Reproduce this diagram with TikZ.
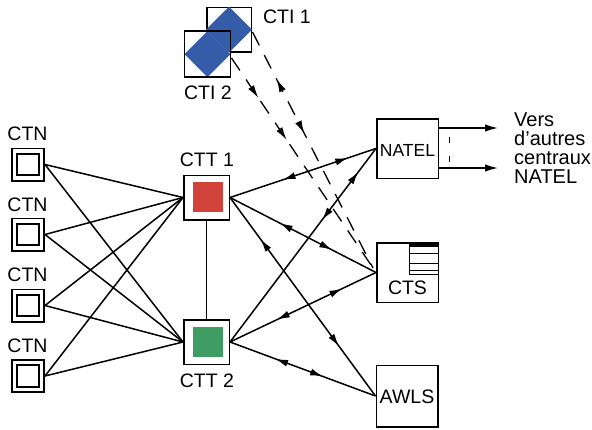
\documentclass[tikz,border=0pt]{standalone}
\usepackage{fontspec}
\setmainfont{Liberation Sans}
\usetikzlibrary{arrows.meta,decorations.markings,calc}
\definecolor{cred}{RGB}{208,66,58}
\definecolor{cgreen}{RGB}{63,156,99}
\definecolor{cblue}{RGB}{53,92,168}
\begin{document}
\begin{tikzpicture}[x=1pt,y=-1pt,
  lbl/.style={font=\fontsize{19.5}{22}\selectfont, inner sep=0},
  ctnbox/.style={draw, line width=1.7pt, minimum size=32.3pt, inner sep=0, fill=white},
  ctnin/.style={draw, line width=1.7pt, minimum size=21.5pt, inner sep=0},
  cttbox/.style={draw, line width=1.5pt, minimum width=45.5pt, minimum height=44.5pt, inner sep=0, fill=white},
  rbox/.style={draw, line width=1.5pt, minimum width=61.5pt, minimum height=59.5pt, inner sep=0, fill=white},
  ctibox/.style={line width=1.5pt, minimum size=44.5pt, inner sep=0},
  conn/.style={line width=1.5pt},
  dconn/.style={line width=1.3pt, dash pattern=on 15pt off 11pt},
  fwd/.style={postaction={decorate,decoration={markings,mark=at position #1 with {\arrow{Latex[length=13pt,width=7pt]}}}}},
  bwd/.style={postaction={decorate,decoration={markings,mark=at position #1 with {\arrowreversed{Latex[length=13pt,width=7pt]}}}}}
]
\useasboundingbox (0,0) rectangle (592,429);

% CTI boxes
\node[ctibox, draw] (cti1) at (229,29.5) {};
\node[ctibox, fill=white] (cti2) at (207.5,54) {};
\fill[cblue] (cti1.north) -- (cti1.east) -- (cti1.south) -- (cti1.west) -- cycle;
\fill[cblue] (cti2.north) -- (cti2.east) -- (cti2.south) -- (cti2.west) -- cycle;
\draw[line width=1.5pt] (cti2.north west) rectangle (cti2.south east);
\node[lbl] (cti1l) at (287,17) {CTI 1};
\node[lbl] (cti2l) at (208,93) {CTI 2};

% CTN boxes
\foreach \i/\y/\ly in {1/164.5/134, 2/234.5/205, 3/305.5/275, 4/376/346}{
  \node[ctnbox] (ctn\i) at (28,\y) {};
  \node[ctnin] (ctnin\i) at (28,\y) {};
  \node[lbl] (ctnl\i) at (27.5,\ly) {CTN};
}

% CTT boxes
\node[cttbox] (ctt1) at (206.5,197.5) {};
\node[fill=cred, minimum size=30pt, inner sep=0] (ctt1in) at (208,197) {};
\node[lbl] (ctt1l) at (207,160) {CTT 1};
\node[cttbox] (ctt2) at (206.5,342) {};
\node[fill=cgreen, minimum size=30pt, inner sep=0] (ctt2in) at (208,341.5) {};
\node[lbl] (ctt2l) at (207,380.5) {CTT 2};
\draw[line width=1pt] (ctt1.south) -- (ctt2.north);

% right boxes
\node[rbox] (natel) at (407.5,148.5) {};
\node[font=\fontsize{17.5}{20}\selectfont, inner sep=0] (natell) at (407.5,150) {NATEL};
\node[rbox] (cts) at (407.5,272.5) {};
\node[lbl] (ctsl) at (407.5,288) {CTS};
\node[rbox, minimum height=61.5pt] (awls) at (407,396) {};
\node[lbl] (awlsl) at (407,397) {AWLS};

% CTS stripes
\fill (409,242.5) rectangle (438.5,246.5);
\draw[line width=1pt] (409,242.5) -- (409,274.5);
\foreach \yy in {253,263,270.5,274}{
  \draw[line width=1pt] (409,\yy) -- (438.5,\yy);
}

% CTN -> CTT connectors
\foreach \i in {1,...,4}{
  \draw[conn] (ctn\i.east) -- (ctt1.west);
  \draw[conn] (ctn\i.east) -- (ctt2.west);
}

% CTT -> right boxes
\draw[conn, fwd=0.81, bwd=0.36] (ctt1.east) -- (natel.west);
\draw[conn, fwd=0.70, bwd=0.34] (ctt1.east) -- (cts.west);
\draw[conn, fwd=0.75, bwd=0.21] (ctt1.east) -- (awls.west);
\draw[conn, fwd=0.88, bwd=0.63] (ctt2.east) -- (natel.west);
\draw[conn, fwd=0.77, bwd=0.32] (ctt2.east) -- (cts.west);
\draw[conn, fwd=0.64, bwd=0.31] (ctt2.east) -- (awls.west);

% dashed CTI -> CTS
\coordinate (da) at (231.5,58);
\coordinate (db) at (252.5,32);
\coordinate (dend) at (373,268);
\draw[dconn, fwd=0.19, fwd=0.39] (da) -- (dend);
\draw[dconn, bwd=0.20, fwd=0.43] (db) -- (dend);

% NATEL outgoing
\coordinate (o1) at (498,128);
\coordinate (o2) at (498,168);
\draw[conn, -{Latex[length=13pt,width=7.5pt]}] (natel.east |- o1) -- (o1);
\draw[conn, -{Latex[length=13pt,width=7.5pt]}] (natel.east |- o2) -- (o2);
\coordinate (dm1) at (449,137);
\coordinate (dm2) at (449,162);
\draw[line width=1pt, dash pattern=on 6pt off 13pt] (dm1) -- (dm2);
\node[font=\fontsize{20}{19}\selectfont, inner sep=0, anchor=west, align=left] (vers) at (514,148.5) {Vers\\d'autres\\centraux\\NATEL};
\end{tikzpicture}
\end{document}
